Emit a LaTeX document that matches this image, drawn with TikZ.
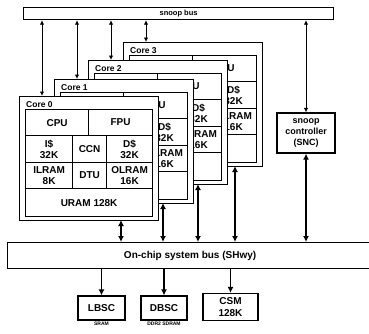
\documentclass[tikz,border=0pt]{standalone}
\usepackage{fontspec}
\setmainfont{Liberation Sans}
\usetikzlibrary{arrows.meta}

\tikzset{
  blk/.style={draw,line width=1.2pt,fill=white,inner sep=0pt,anchor=north west,align=center,font=\bfseries\fontsize{10}{11}\selectfont},
  corelabel/.style={anchor=south west,inner sep=1pt,font=\bfseries\fontsize{8.5}{9}\selectfont},
  busarrow/.style={{Latex[length=6pt,width=6pt]}-{Latex[length=6pt,width=6pt]},line width=1.6pt},
  snooparrow/.style={{Latex[length=4.5pt,width=4.5pt]}-{Latex[length=4.5pt,width=4.5pt]},line width=1pt},
  downarrow/.style={-{Latex[length=6pt,width=6pt]},line width=1.6pt},
  tinylabel/.style={inner sep=0pt,font=\bfseries\fontsize{5}{5}\selectfont}
}

\begin{document}
\begin{tikzpicture}[x=1pt,y=-1pt]
\useasboundingbox (0,0) rectangle (369,333);
% snoop bus
\node[blk,minimum width=310pt,minimum height=12pt,font=\bfseries\fontsize{7.5}{8}\selectfont] (snoopbus) at (23,7) {snoop bus};
% cores, back to front
\foreach \i/\x/\y/\b in {3/123/42/112, 2/88/60/110, 1/54/79/109, 0/19/96/102} {
  \node[blk,minimum width=139pt,minimum height=124pt] (core\i) at (\x,\y) {};
  \node[corelabel] (lab\i) at (\x+6,\y+13) {Core \i};
  \node[blk,minimum width=63pt,minimum height=26pt] (cpu\i) at (\x+6,\y+13) {CPU};
  \node[blk,minimum width=64pt,minimum height=26pt] (fpu\i) at (\x+69,\y+13) {FPU};
  \node[blk,minimum width=47pt,minimum height=27pt] (icache\i) at (\x+6,\y+39) {I\$\\32K};
  \node[blk,minimum width=34pt,minimum height=27pt] (ccn\i) at (\x+53,\y+39) {CCN};
  \node[blk,minimum width=46pt,minimum height=27pt] (dcache\i) at (\x+87,\y+39) {D\$\\32K};
  \node[blk,minimum width=47pt,minimum height=26pt] (ilram\i) at (\x+6,\y+66) {ILRAM\\8K};
  \node[blk,minimum width=34pt,minimum height=26pt] (dtu\i) at (\x+53,\y+66) {DTU};
  \node[blk,minimum width=46pt,minimum height=26pt] (olram\i) at (\x+87,\y+66) {OLRAM\\16K};
  \node[blk,minimum width=127pt,minimum height=28pt] (uram\i) at (\x+6,\y+92) {URAM 128K};
  \coordinate (snp\i) at (\x+23,\y);
  \coordinate (bot\i) at (\x+\b,\y+124);
}
% snoop controller
\node[blk,anchor=center,minimum width=58pt,minimum height=40pt,font=\bfseries\fontsize{9}{11}\selectfont] (snc) at (306,133) {snoop\\controller\\(SNC)};
% system bus
\node[blk,minimum width=365pt,minimum height=26pt] (sysbus) at (7,242) {On-chip system bus (SHwy)};
% memory side
\node[blk,anchor=center,minimum width=47pt,minimum height=24pt] (lbsc) at (101.5,308) {LBSC};
\node[tinylabel,below=1.5pt] (sram) at (lbsc.south) {SRAM};
\node[blk,anchor=center,minimum width=46pt,minimum height=24pt] (dbsc) at (164,308) {DBSC};
\node[tinylabel,below=1.5pt] (sdram) at (dbsc.south) {DDR2 SDRAM};
\node[blk,anchor=center,minimum width=55pt,minimum height=27pt,font=\bfseries\fontsize{10}{12}\selectfont] (csm) at (230.5,307) {CSM\\128K};
% connectors
\foreach \i in {0,1,2,3} {
  \draw[snooparrow] (snoopbus.south -| snp\i) -- (snp\i);
  \draw[busarrow] (bot\i) -- (sysbus.north -| bot\i);
}
\draw[snooparrow] (snoopbus.south -| snc.north) -- (snc.north);
\draw[busarrow] (snc.south) -- (sysbus.north -| snc.south);
\draw[downarrow] (sysbus.south -| lbsc.north) -- (lbsc.north);
\draw[downarrow] (sysbus.south -| dbsc.north) -- (dbsc.north);
\draw[downarrow] (sysbus.south -| csm.north) -- (csm.north);
\end{tikzpicture}
\end{document}
